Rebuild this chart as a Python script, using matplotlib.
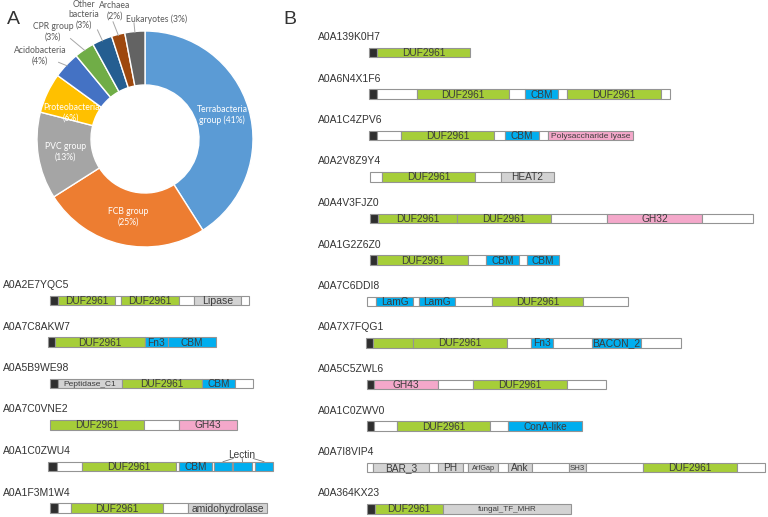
import numpy as np
import matplotlib
matplotlib.use("Agg")
import matplotlib.pyplot as plt

# ---------------- Panel A: taxonomic distribution ----------------
taxa = ["Terrabacteria\ngroup (41%)", "FCB group\n(25%)", "PVC group\n(13%)",
        "Proteobacteria\n(6%)", "Acidobacteria\n(4%)", "CPR group\n(3%)",
        "Other\nbacteria\n(3%)", "Archaea\n(2%)", "Eukaryotes (3%)"]
shares = [41, 25, 13, 6, 4, 3, 3, 2, 3]
taxa_colors = ["#5b9bd5", "#ed7d31", "#a5a5a5", "#ffc000", "#4472c4",
               "#70ad47", "#255e91", "#9e480e", "#636363"]

# ---------------- Panel B / lower A: domain architectures ----------------
# each entry: (start, end, kind, label) in residue-like units from the row start
left_ids = ["A0A2E7YQC5", "A0A7C8AKW7", "A0A5B9WE98", "A0A7C0VNE2", "A0A1C0ZWU4", "A0A1F3M1W4"]
left_domains = [
    [(2, 10, "sp", ""), (10, 67, "duf", "DUF2961"), (67, 73, "gap", ""), (73, 131, "duf", "DUF2961"),
     (131, 146, "gap", ""), (146, 193, "gray", "Lipase"), (193, 201, "gap", "")],
    [(0, 7, "sp", ""), (7, 97, "duf", "DUF2961"), (97, 120, "blue", "Fn3"), (120, 168, "blue", "CBM")],
    [(2, 10, "sp", ""), (10, 74, "gray", "Peptidase_C1"), (74, 154, "duf", "DUF2961"),
     (154, 187, "blue", "CBM"), (187, 205, "gap", "")],
    [(2, 96, "duf", "DUF2961"), (96, 131, "gap", ""), (131, 189, "pink", "GH43")],
    [(0, 9, "sp", ""), (9, 34, "gap", ""), (34, 128, "duf", "DUF2961"), (128, 131, "gap", ""),
     (131, 164, "blue", "CBM"), (164, 166, "gap", ""), (166, 184, "lectin", ""), (184, 185, "gap", ""),
     (185, 204, "lectin", ""), (204, 207, "gap", ""), (207, 225, "lectin", "")],
    [(2, 10, "sp", ""), (10, 23, "gap", ""), (23, 115, "duf", "DUF2961"), (115, 140, "gap", ""),
     (140, 219, "gray", "amidohydrolase")],
]

right_ids = ["A0A139K0H7", "A0A6N4X1F6", "A0A1C4ZPV6", "A0A2V8Z9Y4", "A0A4V3FJZ0", "A0A1G2Z6Z0",
             "A0A7C6DDI8", "A0A7X7FQG1", "A0A5C5ZWL6", "A0A1C0ZWV0", "A0A7I8VIP4", "A0A364KX23"]
right_domains = [
    [(3, 11, "sp", ""), (11, 104, "duf", "DUF2961")],
    [(3, 11, "sp", ""), (11, 51, "gap", ""), (51, 143, "duf", "DUF2961"), (143, 159, "gap", ""),
     (159, 192, "blue", "CBM"), (192, 201, "gap", ""), (201, 295, "duf", "DUF2961"), (295, 304, "gap", "")],
    [(3, 11, "sp", ""), (11, 35, "gap", ""), (35, 128, "duf", "DUF2961"), (128, 139, "gap", ""),
     (139, 173, "blue", "CBM"), (173, 182, "gap", ""), (182, 267, "pink", "Polysaccharide lyase")],
    [(4, 16, "gap", ""), (16, 109, "duf", "DUF2961"), (109, 135, "gap", ""), (135, 188, "gray", "HEAT2")],
    [(4, 12, "sp", ""), (12, 91, "duf", "DUF2961"), (91, 185, "duf", "DUF2961"), (185, 241, "gap", ""),
     (241, 336, "pink", "GH32"), (336, 387, "gap", "")],
    [(4, 11, "sp", ""), (11, 102, "duf", "DUF2961"), (102, 120, "gap", ""), (120, 153, "blue", "CBM"),
     (153, 161, "gap", ""), (161, 193, "blue", "CBM")],
    [(1, 10, "gap", ""), (10, 47, "blue", "LamG"), (47, 53, "gap", ""), (53, 89, "blue", "LamG"),
     (89, 126, "gap", ""), (126, 217, "duf", "DUF2961"), (217, 262, "gap", "")],
    [(0, 7, "sp", ""), (7, 47, "duf", ""), (47, 141, "duf", "DUF2961"), (141, 165, "gap", ""),
     (165, 187, "blue", "Fn3"), (187, 226, "gap", ""), (226, 275, "blue", "BACON_2"), (275, 315, "gap", "")],
    [(1, 8, "sp", ""), (8, 72, "pink", "GH43"), (72, 107, "gap", ""), (107, 201, "duf", "DUF2961"),
     (201, 240, "gap", "")],
    [(1, 8, "sp", ""), (8, 31, "gap", ""), (31, 124, "duf", "DUF2961"), (124, 142, "gap", ""),
     (142, 216, "blue", "ConA-like")],
    [(1, 7, "gap", ""), (7, 63, "gray", "BAR_3"), (63, 72, "gap", ""), (72, 97, "gray", "PH"),
     (97, 102, "gap", ""), (102, 132, "gray", "ArfGap"), (132, 142, "gap", ""), (142, 166, "gray", "Ank"),
     (166, 203, "gap", ""), (203, 220, "gray", "SH3"), (220, 277, "gap", ""), (277, 371, "duf", "DUF2961"),
     (371, 399, "gap", "")],
    [(1, 9, "sp", ""), (9, 77, "duf", "DUF2961"), (77, 205, "gray", "fungal_TF_MHR")],
]

# ---------------- styles ----------------
kind_colors = {"sp": "#2e2e2e", "gap": "#ffffff", "duf": "#a6ce39", "blue": "#00aeef",
               "lectin": "#00aeef", "pink": "#f4a8ca", "gray": "#d3d3d3"}
small_labels = {"Peptidase_C1": 6.0, "Polysaccharide lyase": 6.0, "ArfGap": 5.2, "SH3": 5.6,
                "fungal_TF_MHR": 5.8, "amidohydrolase": 7.4, "Lipase": 7.6, "BACON_2": 7.4}
id_color = "#333333"
dom_text = "#3c3c3c"

W, H = 768, 517
fig = plt.figure(figsize=(W / 100, H / 100), dpi=100)
ax = fig.add_axes([0, 0, 1, 1])
ax.set_xlim(0, W)
ax.set_ylim(H, 0)
ax.axis("off")

def draw_panel(ids, domains, x0, y0, dy, lab_x):
    rows = []
    for i, (pid, doms) in enumerate(zip(ids, domains)):
        y = y0 + i * dy
        ax.text(lab_x, y - 15.5, pid, fontsize=7.5, color=id_color, va="center", ha="left",
                family="Liberation Sans")
        starts = np.array([d[0] for d in doms], float)
        ends = np.array([d[1] for d in doms], float)
        cols = [kind_colors[d[2]] for d in doms]
        ax.barh(y, ends - starts, left=x0 + starts, height=9.5, color=cols,
                edgecolor="#949494", linewidth=0.8, zorder=2)
        for s, e, k, lab in doms:
            if lab:
                fs = small_labels.get(lab, 7.3)
                ax.text(x0 + (s + e) / 2, y + 0.5, lab, fontsize=fs, color=dom_text,
                        ha="center", va="center", family="Liberation Sans", zorder=3)
        rows.append((y, doms))
    return rows

left_rows = draw_panel(left_ids, left_domains, 48, 300.5, 41.5, 3)
right_rows = draw_panel(right_ids, right_domains, 366, 52.5, 41.5, 318)

# Lectin bracket
y_lec, doms_lec = left_rows[4]
lec_centers = [48 + (s + e) / 2 for s, e, k, _ in doms_lec if k == "lectin"]
tx = np.mean(lec_centers) - 1
ax.text(tx, 454.5, "Lectin", fontsize=7.3, color=dom_text, ha="center", va="center",
        family="Liberation Sans")
for cx, dx in zip(lec_centers, [-9, 0, 11]):
    ax.plot([tx + dx, cx], [458.5, y_lec - 4.8], color="#777777", lw=0.6, zorder=1)

# Panel letters
ax.text(7, 19, "A", fontsize=14, color="#333333", va="center", ha="left", family="Liberation Sans")
ax.text(283, 19, "B", fontsize=14, color="#333333", va="center", ha="left", family="Liberation Sans")

# ---------------- donut ----------------
cx, cy, R = 145, 139, 108
pax = fig.add_axes([(cx - R) / W, 1 - (cy + R) / H, 2 * R / W, 2 * R / H])
wedges, _ = pax.pie(shares, colors=taxa_colors, startangle=90, counterclock=False,
                    radius=1.0, wedgeprops=dict(width=0.5, edgecolor="white", linewidth=1.0))
pax.set_xlim(-1, 1)
pax.set_ylim(-1, 1)
pax.set_aspect("equal")
pax.axis("off")

inside_pos = [(0.713, 0.222), (-0.157, -0.722), (-0.74, -0.12), (-0.685, 0.24)]
outside_pos = [(-0.97, 0.77), (-0.85, 0.99), (-0.565, 1.15), (-0.278, 1.19), (0.11, 1.11)]
leader_start = [(-0.80, 0.71), (-0.69, 0.93), (-0.44, 1.01), (-0.296, 1.085), (-0.102, 1.075)]
donut_font = "Lato"
for lab, (x, y) in zip(taxa[:4], inside_pos):
    pax.text(x, y, lab, color="white", fontsize=6.2, ha="center", va="center",
             family=donut_font, linespacing=1.25)
cum = np.cumsum([0] + shares)
for j, (lab, (x, y), (lx, ly)) in enumerate(zip(taxa[4:], outside_pos, leader_start)):
    k = j + 4
    mid = (cum[k] + cum[k + 1]) / 2 / sum(shares) * 360
    ang = np.deg2rad(90 - mid)
    pax.text(x, y, lab, color="#595959", fontsize=6.2, ha="center", va="center",
             family=donut_font, linespacing=1.2, clip_on=False)
    pax.plot([lx, np.cos(ang) * 0.99], [ly, np.sin(ang) * 0.99], color="#a6a6a6",
             lw=0.7, clip_on=False)

fig.savefig("out.png", dpi=100)
